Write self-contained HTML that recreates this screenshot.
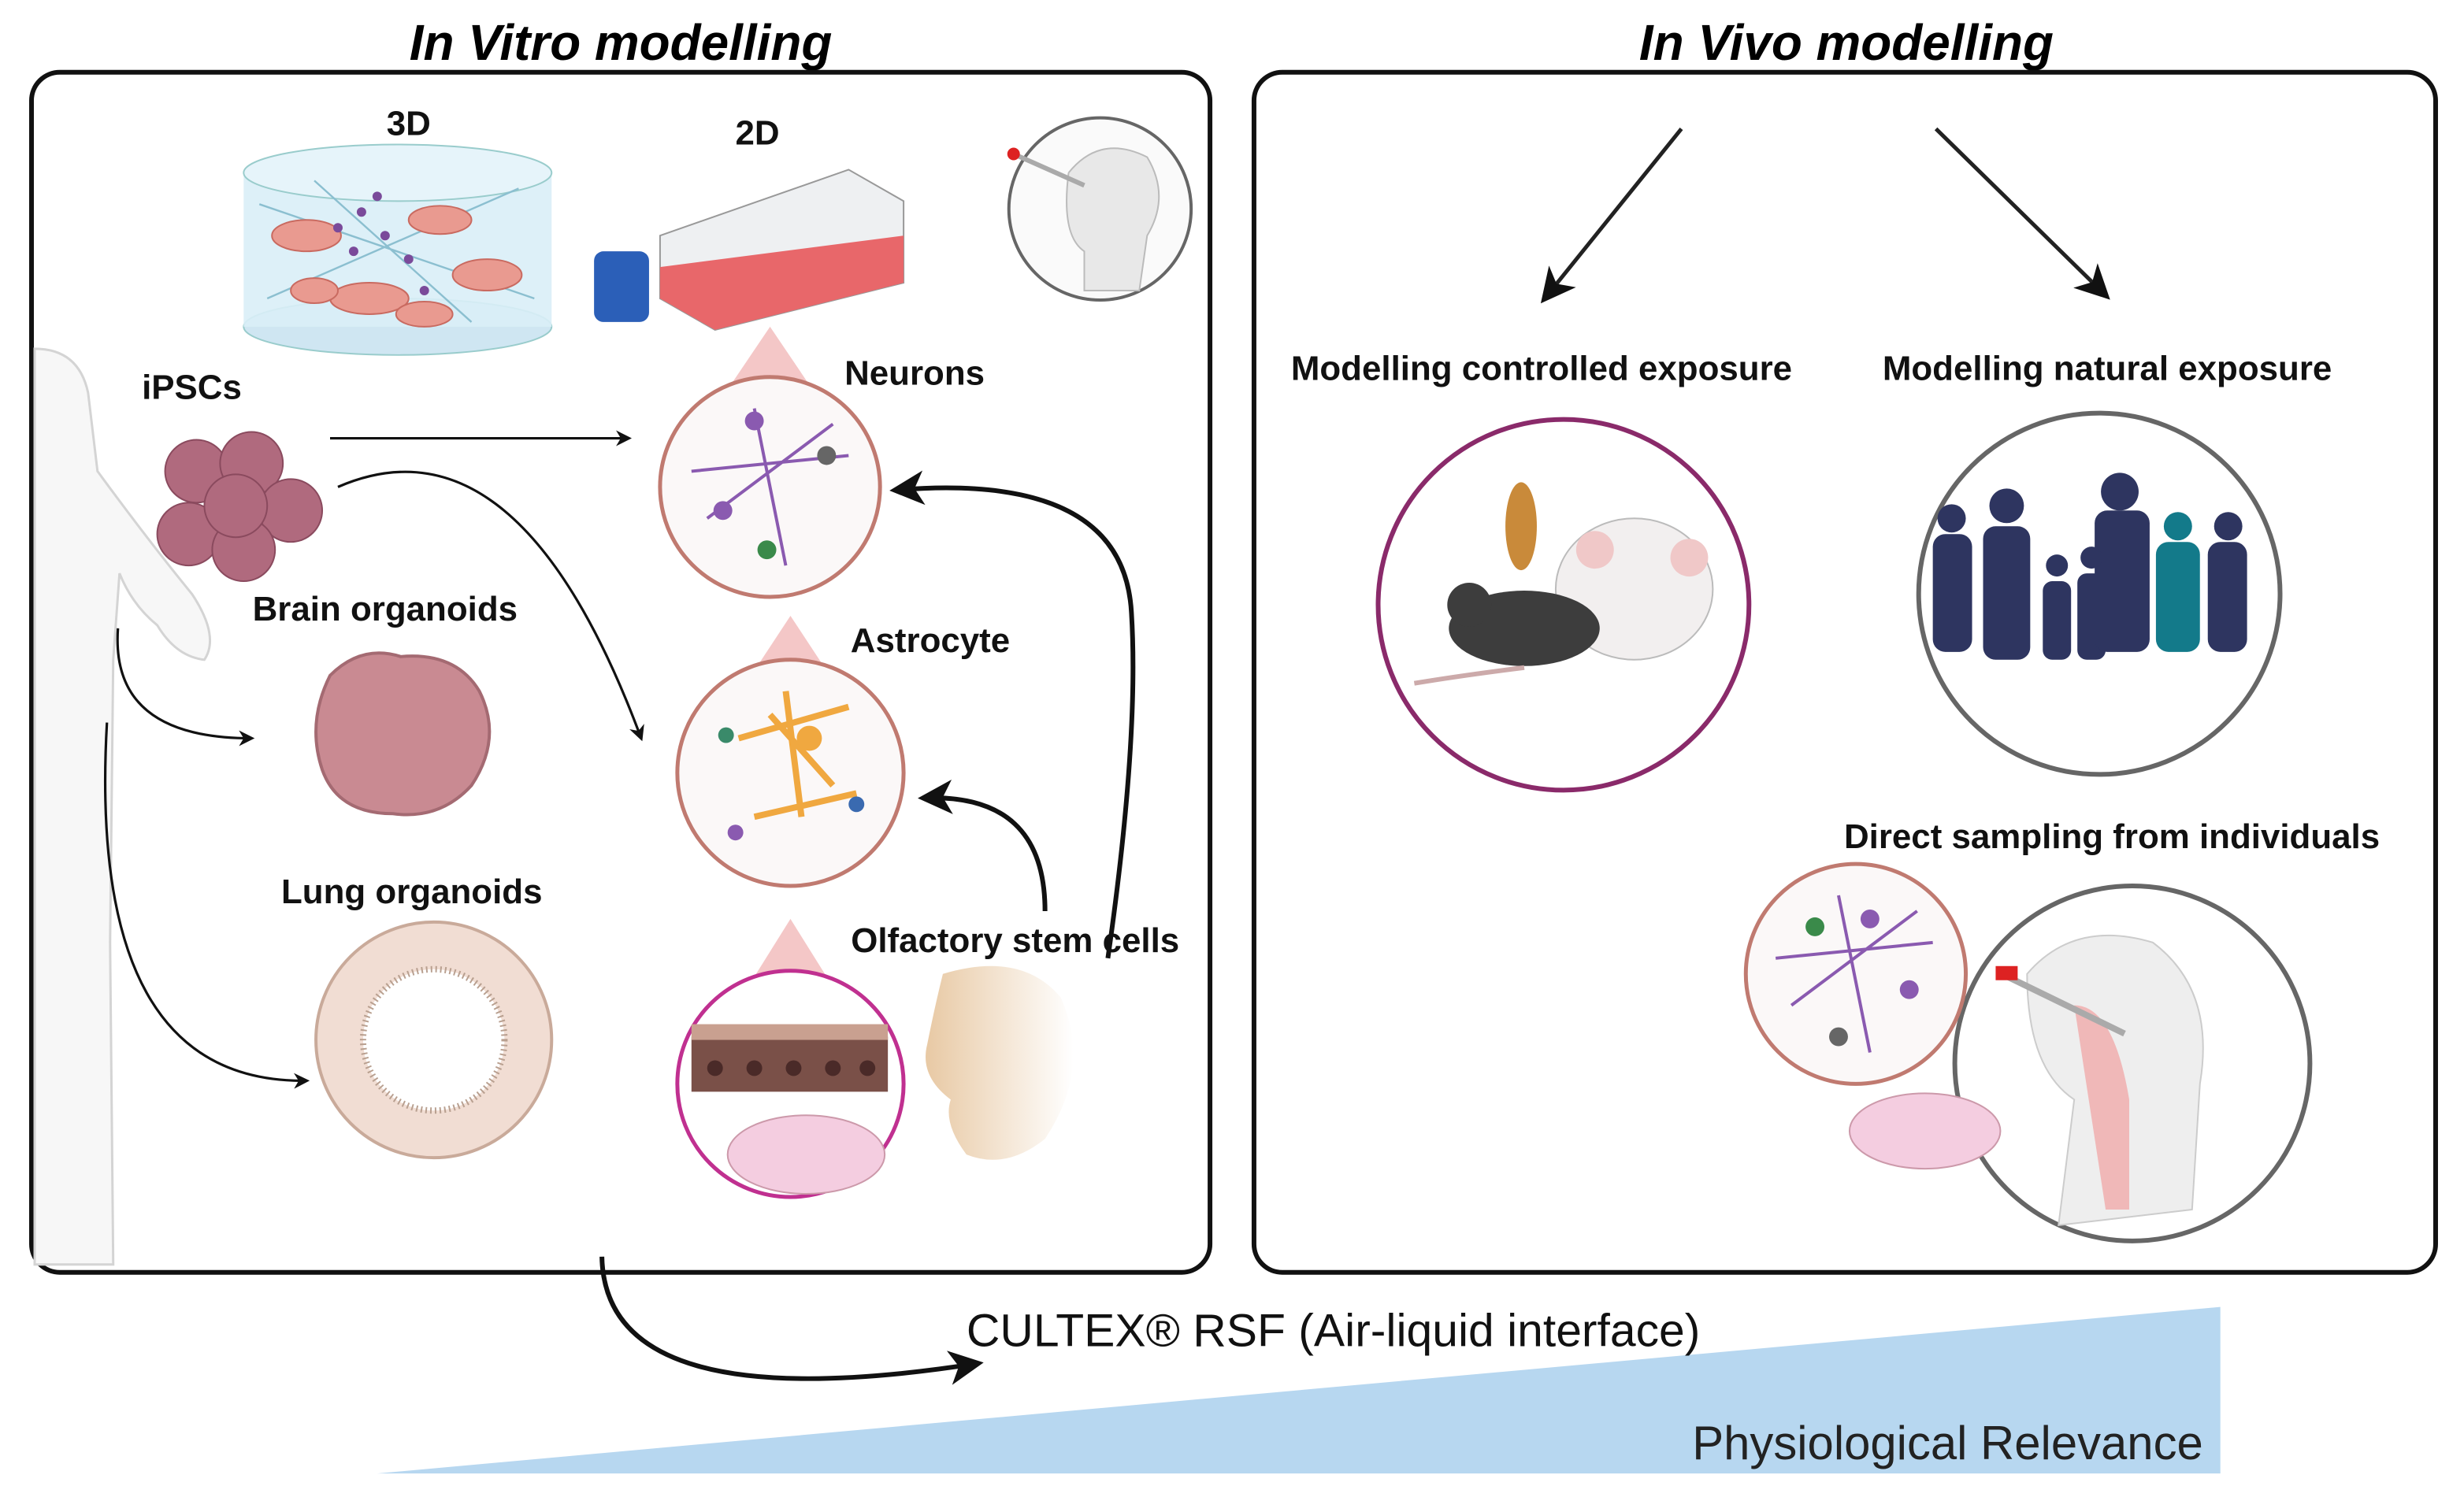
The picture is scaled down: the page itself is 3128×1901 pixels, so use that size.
<!DOCTYPE html>
<html><head><meta charset="utf-8"><style>
html,body{margin:0;padding:0;background:#fff;}
svg{display:block;}
text{font-family:"Liberation Sans",sans-serif;}
.b{font-weight:bold;font-size:22px;fill:#111;}
</style></head><body>
<svg width="3128" height="1901" viewBox="0 0 1568 953" xmlns="http://www.w3.org/2000/svg">
<defs>
<marker id="ah" markerWidth="10" markerHeight="10" refX="8" refY="5" orient="auto" markerUnits="userSpaceOnUse"><path d="M0,0 L10,5 L0,10 L3,5 z" fill="#111"/></marker>
<marker id="ahb" markerWidth="22" markerHeight="22" refX="18" refY="11" orient="auto" markerUnits="userSpaceOnUse"><path d="M0,0 L22,11 L0,22 L6,11 z" fill="#111"/></marker>
<linearGradient id="nose" x1="0" x2="1"><stop offset="0" stop-color="#e8c9a4"/><stop offset="1" stop-color="#fff"/></linearGradient>
</defs>
<!-- titles -->
<text x="395" y="38" text-anchor="middle" font-size="32" font-weight="bold" font-style="italic">In Vitro modelling</text>
<text x="1175" y="38" text-anchor="middle" font-size="32" font-weight="bold" font-style="italic">In Vivo modelling</text>
<!-- boxes -->
<rect x="20" y="46" width="750" height="764" rx="18" fill="none" stroke="#111" stroke-width="3"/>
<rect x="798" y="46" width="752" height="764" rx="18" fill="none" stroke="#111" stroke-width="3"/>

<!-- body silhouette -->
<path d="M22,222 Q50,222 56,250 L62,300 Q95,345 122,378 Q140,405 130,420 Q112,418 100,398 Q84,385 76,365 L72,420 L70,600 L72,805 L22,805 Z" fill="#f7f7f7" stroke="#d4d4d4" stroke-width="1.5"/>

<!-- 3D dish -->
<ellipse cx="253" cy="208" rx="98" ry="18" fill="#cfe6f2" stroke="#9cc"/>
<rect x="155" y="110" width="196" height="98" fill="#d9eef7" opacity="0.9"/>
<ellipse cx="253" cy="110" rx="98" ry="18" fill="#e6f4fa" stroke="#9cc"/>
<g stroke="#8bbfd0" stroke-width="1.2" fill="none"><path d="M165,130 L340,190 M170,190 L330,120 M200,115 L300,205"/></g>
<g fill="#e99a90" stroke="#c96a60">
<ellipse cx="195" cy="150" rx="22" ry="10"/><ellipse cx="280" cy="140" rx="20" ry="9"/><ellipse cx="310" cy="175" rx="22" ry="10"/><ellipse cx="235" cy="190" rx="25" ry="10"/><ellipse cx="200" cy="185" rx="15" ry="8"/><ellipse cx="270" cy="200" rx="18" ry="8"/></g>
<g fill="#7a4a9a"><circle cx="230" cy="135" r="3"/><circle cx="245" cy="150" r="3"/><circle cx="260" cy="165" r="3"/><circle cx="225" cy="160" r="3"/><circle cx="270" cy="185" r="3"/><circle cx="215" cy="145" r="3"/><circle cx="240" cy="125" r="3"/></g>
<text x="260" y="86" text-anchor="middle" class="b" font-size="25">3D</text>
<!-- 2D flask -->
<path d="M420,150 L540,108 L575,128 L575,180 L455,210 L420,190 Z" fill="#eef0f2" stroke="#999"/>
<path d="M420,170 L575,150 L575,180 L455,210 L420,190 Z" fill="#e8676a"/>
<rect x="378" y="160" width="35" height="45" rx="6" fill="#2b5fb8"/>
<text x="482" y="92" text-anchor="middle" class="b" font-size="25">2D</text>
<!-- head circle top -->
<circle cx="700" cy="133" r="58" fill="#fafafa" stroke="#666" stroke-width="2"/>
<path d="M680,110 Q700,85 730,100 Q745,125 730,150 L725,185 L690,185 L690,160 Q675,150 680,110" fill="#e8e8e8" stroke="#bbb"/>
<line x1="645" y1="98" x2="690" y2="118" stroke="#aaa" stroke-width="3"/><circle cx="645" cy="98" r="4" fill="#d22"/>

<!-- iPSCs -->
<text x="122" y="254" text-anchor="middle" class="b">iPSCs</text>
<g fill="#b06a7e" stroke="#8a4a5e"><circle cx="125" cy="300" r="20"/><circle cx="160" cy="295" r="20"/><circle cx="185" cy="325" r="20"/><circle cx="120" cy="340" r="20"/><circle cx="155" cy="350" r="20"/><circle cx="150" cy="322" r="20"/></g>
<!-- brain organoid -->
<text x="245" y="395" text-anchor="middle" class="b">Brain organoids</text>
<path d="M210,430 Q230,410 255,418 Q290,415 305,440 Q320,470 300,500 Q280,522 250,518 Q215,518 205,490 Q195,460 210,430 Z" fill="#c98a92" stroke="#a46a72" stroke-width="2"/>
<!-- lung organoid -->
<text x="262" y="575" text-anchor="middle" class="b">Lung organoids</text>
<circle cx="276" cy="662" r="75" fill="#f1ddd3" stroke="#c9aa9a" stroke-width="2"/>
<circle cx="276" cy="662" r="45" fill="#fff" stroke="#b9a090" stroke-width="4" stroke-dasharray="1 2"/>

<!-- neurons circle -->
<path d="M465,245 L490,208 L515,245 Z" fill="#f4c7c7"/>
<text x="582" y="245" text-anchor="middle" class="b">Neurons</text>
<circle cx="490" cy="310" r="70" fill="#fbf8f8" stroke="#c07a70" stroke-width="2.5"/>
<g stroke="#8a5ab0" stroke-width="2" fill="none"><path d="M440,300 L540,290 M480,260 L500,360 M450,330 L530,270"/></g>
<circle cx="480" cy="268" r="6" fill="#8a5ab0"/><circle cx="460" cy="325" r="6" fill="#8a5ab0"/><circle cx="488" cy="350" r="6" fill="#3a8a4a"/><circle cx="526" cy="290" r="6" fill="#666"/>
<!-- astrocyte -->
<path d="M478,430 L503,392 L528,430 Z" fill="#f4c7c7"/>
<text x="592" y="415" text-anchor="middle" class="b">Astrocyte</text>
<circle cx="503" cy="492" r="72" fill="#fbf8f8" stroke="#c07a70" stroke-width="2.5"/>
<g stroke="#f0a840" stroke-width="4" fill="none"><path d="M470,470 L540,450 M500,440 L510,520 M480,520 L545,505 M490,455 L530,500"/></g>
<circle cx="515" cy="470" r="8" fill="#f0a840"/><circle cx="462" cy="468" r="5" fill="#3a8a6a"/><circle cx="468" cy="530" r="5" fill="#8a5ab0"/><circle cx="545" cy="512" r="5" fill="#3a6ab0"/>
<!-- olfactory -->
<path d="M600,620 Q650,605 675,635 Q695,680 665,725 Q640,745 615,735 Q600,715 605,700 Q585,685 590,665 Q595,640 600,620 Z" fill="url(#nose)"/>
<path d="M478,625 L503,585 L528,625 Z" fill="#f4c7c7"/>
<text x="646" y="606" text-anchor="middle" class="b">Olfactory stem cells</text>
<circle cx="503" cy="690" r="72" fill="#fff" stroke="#c03090" stroke-width="2.5"/>
<rect x="440" y="660" width="125" height="35" fill="#7a5048"/>
<rect x="440" y="652" width="125" height="10" fill="#c9a090"/>
<g fill="#4a2a28"><circle cx="455" cy="680" r="5"/><circle cx="480" cy="680" r="5"/><circle cx="505" cy="680" r="5"/><circle cx="530" cy="680" r="5"/><circle cx="552" cy="680" r="5"/></g>
<ellipse cx="513" cy="735" rx="50" ry="25" fill="#f4cde0" stroke="#c9a"/>

<!-- arrows left -->
<g stroke="#111" stroke-width="1.6" fill="none" marker-end="url(#ah)">
<path d="M210,279 L400,279"/>
<path d="M215,310 Q330,260 408,470"/>
<path d="M75,400 Q70,470 160,470"/>
<path d="M68,460 Q55,690 195,688"/>
</g>
<g stroke="#111" stroke-width="3" fill="none" marker-end="url(#ahb)">
<path d="M705,610 Q725,470 720,390 Q715,300 570,312"/>
<path d="M665,580 Q665,505 588,508"/>
</g>

<!-- right side -->
<g stroke="#222" stroke-width="2.5" fill="none" marker-end="url(#ahb)">
<path d="M1070,82 L983,190"/>
<path d="M1232,82 L1340,188"/>
</g>
<text x="981" y="242" text-anchor="middle" class="b">Modelling controlled exposure</text>
<text x="1341" y="242" text-anchor="middle" class="b">Modelling natural exposure</text>
<circle cx="995" cy="385" r="118" fill="#fff" stroke="#8a2a6a" stroke-width="3"/>
<ellipse cx="1040" cy="375" rx="50" ry="45" fill="#f2efef" stroke="#bbb"/>
<circle cx="1075" cy="355" r="12" fill="#f0c8c8"/><circle cx="1015" cy="350" r="12" fill="#f0c8c8"/>
<ellipse cx="970" cy="400" rx="48" ry="24" fill="#3d3d3d"/>
<circle cx="935" cy="385" r="14" fill="#3d3d3d"/>
<path d="M970,425 Q930,430 900,435" stroke="#caa" stroke-width="3" fill="none"/>
<ellipse cx="968" cy="335" rx="10" ry="28" fill="#c98a3a"/>
<circle cx="1336" cy="378" r="115" fill="#fff" stroke="#666" stroke-width="3"/>
<g fill="#2e3560"><rect x="1230" y="340" width="25" height="75" rx="8"/><rect x="1262" y="335" width="30" height="85" rx="8"/><rect x="1300" y="370" width="18" height="50" rx="6"/><rect x="1322" y="365" width="18" height="55" rx="6"/><rect x="1333" y="325" width="35" height="90" rx="8"/><rect x="1405" y="345" width="25" height="70" rx="8"/>
<circle cx="1242" cy="330" r="9"/><circle cx="1277" cy="322" r="11"/><circle cx="1349" cy="313" r="12"/><circle cx="1309" cy="360" r="7"/><circle cx="1331" cy="355" r="7"/><circle cx="1418" cy="335" r="9"/></g>
<rect x="1372" y="345" width="28" height="70" rx="8" fill="#137a8a"/><circle cx="1386" cy="335" r="9" fill="#137a8a"/>
<text x="1344" y="540" text-anchor="middle" class="b">Direct sampling from individuals</text>
<circle cx="1357" cy="677" r="113" fill="#fff" stroke="#666" stroke-width="3"/>
<path d="M1290,620 Q1320,585 1370,600 Q1410,630 1400,690 L1395,770 L1310,780 L1320,700 Q1290,680 1290,620 Z" fill="#eee" stroke="#ccc"/>
<path d="M1320,640 Q1345,640 1355,700 L1355,770 L1340,770 Z" fill="#f0b8b8"/>
<line x1="1278" y1="622" x2="1352" y2="658" stroke="#aaa" stroke-width="4"/><rect x="1270" y="615" width="14" height="9" fill="#d22"/>
<circle cx="1181" cy="620" r="70" fill="#fbf8f8" stroke="#c07a70" stroke-width="2.5"/>
<g stroke="#8a5ab0" stroke-width="2" fill="none"><path d="M1130,610 L1230,600 M1170,570 L1190,670 M1140,640 L1220,580"/></g>
<circle cx="1155" cy="590" r="6" fill="#3a8a4a"/><circle cx="1190" cy="585" r="6" fill="#8a5ab0"/><circle cx="1170" cy="660" r="6" fill="#666"/><circle cx="1215" cy="630" r="6" fill="#8a5ab0"/>
<ellipse cx="1225" cy="720" rx="48" ry="24" fill="#f4cde0" stroke="#c9a"/>

<!-- bottom -->
<polygon points="240,938 1413,832 1413,938" fill="#b7d7f0"/>
<path d="M383,800 Q385,905 622,868" stroke="#111" stroke-width="3" fill="none" marker-end="url(#ahb)"/>
<text x="615" y="857" font-size="29.5" fill="#111">CULTEX® RSF (Air-liquid interface)</text>
<text x="1402" y="929" text-anchor="end" font-size="30" fill="#222">Physiological Relevance</text>
</svg>
</body></html>
